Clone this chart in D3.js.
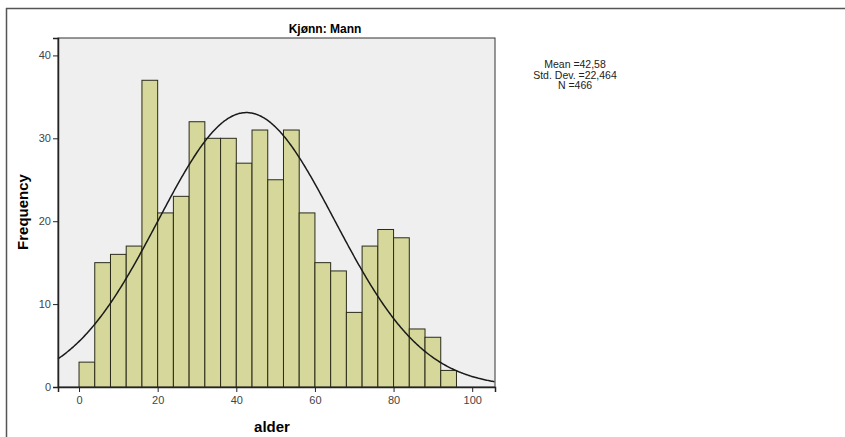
<!DOCTYPE html>
<html><head><meta charset="utf-8">
<script src="https://cdn.jsdelivr.net/npm/d3@7"></script>
<style>body{margin:0;background:#fff;} svg{display:block;font-family:Arial,"Liberation Sans",sans-serif;}</style>
</head><body>
<svg id="c" width="845" height="437"></svg>
<script>
const binStarts = [0,4,8,12,16,20,24,28,32,36,40,44,48,52,56,60,64,68,72,76,80,84,88,92];
const counts    = [3,15,16,17,37,21,23,32,30,30,27,31,25,31,21,15,14,9,17,19,18,7,6,2];
const binWidth = 4;
const xTicks = [0,20,40,60,80,100];
const yTicks = [0,10,20,30,40];
const mean = 42.58, sd = 22.464, n = 466;
const title = "Kjønn: Mann";
const statLines = ["Mean =42,58", "Std. Dev. =22,464", "N =466"];

const svg = d3.select("#c");
const L = 58, R = 495, T = 38, B = 387;
const x = d3.scaleLinear().domain([-5.35, 105.8]).range([L, R]);
const y = d3.scaleLinear().domain([0, 42.1]).range([B, T]);

// outer frame
svg.append("line").attr("x1",6).attr("x2",845).attr("y1",8.5).attr("y2",8.5).attr("stroke","#555").attr("stroke-width",1.5);
svg.append("line").attr("x1",6.5).attr("x2",6.5).attr("y1",8).attr("y2",437).attr("stroke","#555").attr("stroke-width",1.5);

// plot background
svg.append("rect").attr("x",L).attr("y",T).attr("width",R-L).attr("height",B-T).attr("fill","#efefef").attr("stroke","#333").attr("stroke-width",1);

// bars
svg.append("g").selectAll("rect").data(binStarts).join("rect")
  .attr("x", d => x(d)).attr("width", d => x(d+binWidth)-x(d))
  .attr("y", (d,i) => y(counts[i])).attr("height", (d,i) => y(0)-y(counts[i]))
  .attr("fill","#d5d79b").attr("stroke","#2b2b1a").attr("stroke-width",1);

// normal curve
const xs = d3.range(-5.35, 105.81, 0.25);
const pdf = v => n*binWidth/(sd*Math.sqrt(2*Math.PI))*Math.exp(-0.5*((v-mean)/sd)**2);
svg.append("path").datum(xs)
  .attr("d", d3.line().x(v => x(v)).y(v => y(pdf(v))))
  .attr("fill","none").attr("stroke","#1a1a1a").attr("stroke-width",1.5);

// axes
const xa = svg.append("g").attr("transform",`translate(0,${B})`)
  .call(d3.axisBottom(x).tickValues(xTicks).tickSize(5).tickPadding(4));
const ya = svg.append("g").attr("transform",`translate(${L},0)`)
  .call(d3.axisLeft(y).tickValues(yTicks).tickSize(5).tickPadding(2));
[xa, ya].forEach(a => {
  a.select(".domain").attr("stroke","#222").attr("stroke-width",1.5);
  a.selectAll(".tick line").attr("stroke","#222");
  a.selectAll(".tick text").attr("font-size",11).attr("fill","#444").attr("font-family","Arial,'Liberation Sans',sans-serif");
});

// title and labels
svg.append("text").attr("x",325).attr("y",33).attr("text-anchor","middle")
  .attr("font-size",12).attr("font-weight","bold").text(title);
svg.append("text").attr("x",272).attr("y",432).attr("text-anchor","middle")
  .attr("font-size",15).attr("font-weight","bold").text("alder");
svg.append("text").attr("transform","translate(28,212) rotate(-90)").attr("text-anchor","middle")
  .attr("font-size",15).attr("font-weight","bold").text("Frequency");

// stats
svg.append("g").selectAll("text").data(statLines).join("text")
  .attr("x",575).attr("y",(d,i)=>68+i*10.5).attr("text-anchor","middle")
  .attr("font-size",10.5).attr("fill","#222").text(d=>d);
</script>
</body></html>
